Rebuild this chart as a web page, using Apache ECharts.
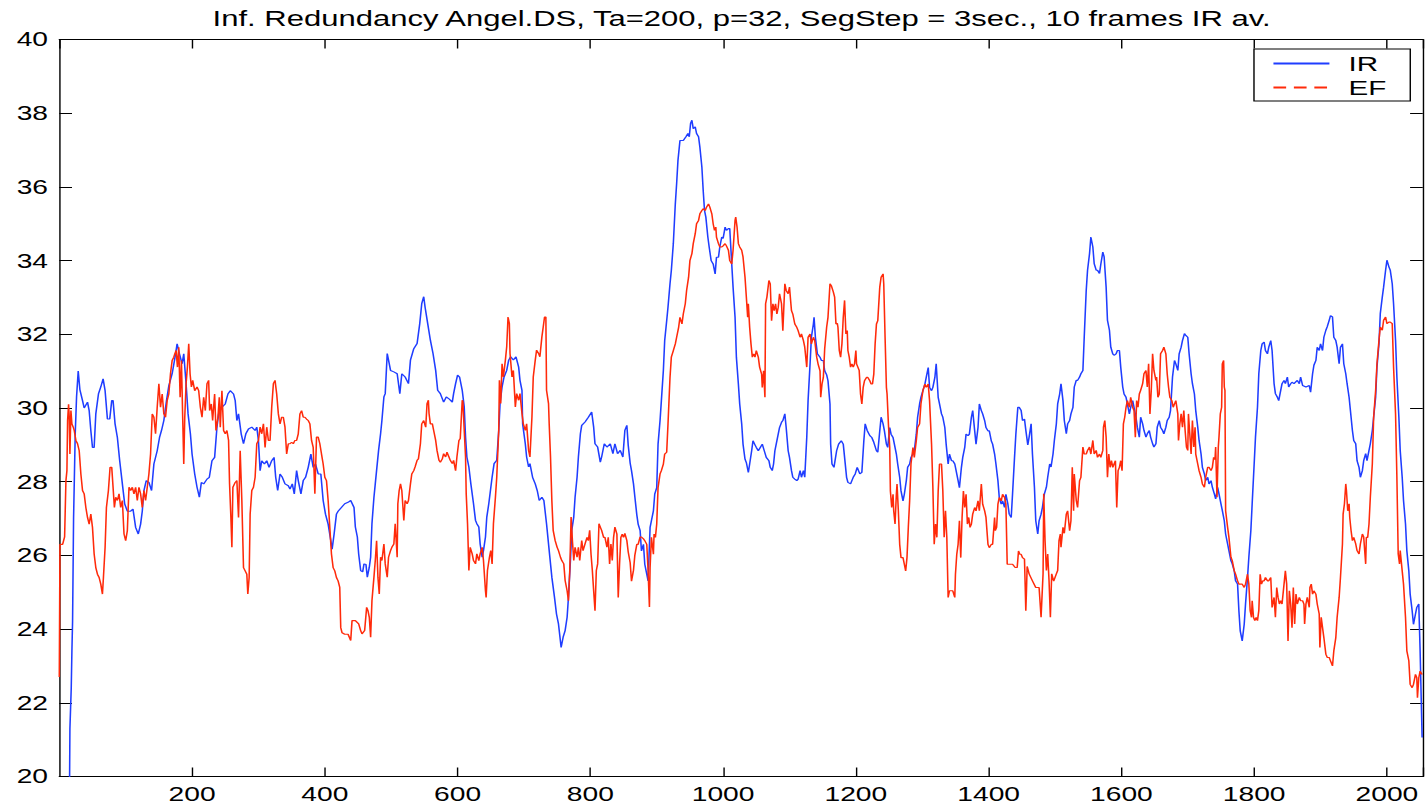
<!DOCTYPE html>
<html>
<head>
<meta charset="utf-8">
<title>Inf. Redundancy Angel.DS</title>
<script src="https://cdn.jsdelivr.net/npm/echarts@6/dist/echarts.min.js"></script>
<style>
  html, body { margin: 0; padding: 0; background: #fff; overflow: hidden; }
  /* the figure is laid out on a narrower canvas and stretched horizontally */
  #chart { width: 1012px; height: 807px; transform: scaleX(1.410079); transform-origin: 0 0; }
</style>
</head>
<body>
<div id="chart"></div>
<script>
// Information redundancy (IR), 10-frame average, as [frame, value]
const irPoints = [
  [15,18.5],[16,21.3],[18,22.4],[19,23.4],[20,24.2],[21.5,27.0],[24,29.3],[26,30.3],[28.5,31.0],[31,30.5],
  [35,30.2],[37.5,30.0],[42.5,30.16],[45,29.93],[47.5,29.39],[50,28.93],[52.5,28.93],[55,29.84],[59,30.38],[62.5,30.57],
  [66,30.79],[69,30.47],[72.5,29.7],[76,29.7],[79,30.2],[81,30.2],[84,29.57],[87.5,29.2],[91,28.57],[95,27.94],
  [98.5,27.4],[102.5,27.2],[107.5,27.2],[111,27.26],[115,26.76],[119,26.58],[122.5,26.85],[125,27.2],[127.5,27.76],[131,28.03],
  [135,27.98],[139,27.76],[142.5,28.48],[147.5,28.84],[151,29.2],[154,29.39],[157.5,29.66],[161.5,30.2],[165,30.6],[170,30.93],
  [174,31.34],[177.5,31.74],[181,31.47],[185,31.2],[187.5,31.47],[191,30.66],[194,29.84],[197.5,29.3],[200,28.75],[204,28.21],
  [207.5,27.85],[211,27.58],[214,27.98],[217.5,27.94],[222.5,28.07],[226,28.12],[230,28.57],[234,28.66],[237.5,29.48],[240,29.84],
  [245,30.02],[250,30.11],[254,30.38],[257.5,30.47],[262.5,30.38],[265,30.2],[267.5,29.66],[270,29.84],[274,29.3],[277.5,29.03],
  [281,29.3],[285,29.43],[290,29.48],[295,29.39],[297.5,29.48],[300,29.12],[302.5,28.3],[305,28.57],[309,28.48],[312.5,28.57],
  [316,28.39],[320,28.57],[323.5,28.66],[326,28.12],[329,27.76],[332.5,28.21],[336,28.12],[340,27.94],[345,27.89],[347.5,27.8],
  [351,27.94],[354,27.67],[357.5,28.3],[360,28.03],[364,27.67],[367.5,28.03],[371,28.12],[375,28.39],[379,28.75],[382.5,28.39],
  [386,28.48],[390,28.21],[394,28.21],[397.5,27.49],[401,27.12],[405,26.85],[409,26.4],[411,26.17],[414,26.58],[417.5,27.12],
  [420,27.2],[425,27.3],[430,27.4],[435,27.44],[439,27.49],[444,27.3],[446,26.77],[449,26.5],[451,26.04],[454,25.59],
  [457,25.55],[459,25.77],[462,25.75],[464,25.41],[467,25.68],[469,25.95],[471,26.86],[474,27.58],[476,27.94],[479,28.49],
  [481,28.85],[484,29.3],[486,29.66],[489,30.3],[491,30.39],[494,31.48],[496,31.3],[499,31.02],[504,30.98],[509,30.93],
  [513,30.39],[516,30.93],[521,30.84],[526,30.66],[529,31.3],[534,31.61],[539,31.75],[543,32.29],[546,32.83],[549,33.02],
  [551,32.74],[555,32.29],[559,31.84],[563,31.48],[567,31.02],[570,30.48],[574,30.39],[579,30.16],[583,30.3],[587,30.25],
  [592,30.16],[594,30.39],[597,30.66],[600,30.89],[603,30.84],[607,30.48],[610,30.03],[612,29.21],[614,28.67],[617,28.4],
  [620,27.94],[624,27.4],[627,26.95],[629,26.86],[632,26.77],[634,26.31],[637,25.95],[639,26.13],[642,26.5],[644,27.04],
  [647,27.4],[652,28.12],[655,28.49],[659,28.58],[662,29.39],[664,30.12],[667,30.57],[670,30.84],[674,31.02],[677,31.3],
  [680,31.39],[684,31.3],[688,31.39],[692,31.11],[694,30.75],[697,30.48],[698,29.57],[702,29.03],[704,28.67],[707,28.4],
  [709,28.49],[713,28.12],[717,27.94],[720,27.76],[723,27.49],[727,27.58],[730,27.49],[734,26.86],[738,26.13],[742,25.41],
  [746,24.86],[749,24.41],[752,24.14],[756,23.5],[759,23.78],[762,23.96],[765,24.32],[767,24.86],[770,25.86],[772,26.68],
  [775,27.04],[777,27.58],[780,28.12],[782,28.67],[785,29.3],[787,29.53],[792,29.62],[797,29.75],[802,29.89],[805,29.48],
  [807,29.03],[811,28.94],[815,28.53],[817,28.67],[821,29.03],[825,28.94],[830,29.03],[834,28.76],[837,29.03],[841,28.76],
  [845,28.85],[849,28.67],[852,29.39],[855,29.53],[857,29.0],[860,28.5],[862,28.3],[865,27.94],[867,27.6],[870,27.1],
  [872,26.85],[875,26.67],[877,26.12],[880,26.3],[882,25.76],[885,25.49],[887,25.31],[890,26.76],[892,26.94],[895,27.21],
  [897,27.66],[900,27.84],[902,29.02],[905,29.66],[907,30.2],[910,31.02],[912,31.83],[915,32.37],[917,32.74],[920,33.37],
  [922,33.73],[925,34.46],[928,35.54],[930,36.09],[932,36.72],[935,37.26],[940,37.26],[944,37.36],[947,37.45],[949,37.36],
  [951,37.72],[953,37.81],[955,37.58],[958,37.63],[960,37.45],[963,37.36],[965,37.08],[968,36.54],[970,35.9],[972,35.36],
  [974,35.18],[977,34.64],[979,34.37],[982,34.0],[985,33.91],[988,33.64],[990,34.09],[993,34.09],[995,34.37],[998,34.64],
  [1000,34.6],[1003,34.91],[1005,34.82],[1008,34.87],[1010,34.87],[1013,33.91],[1015,33.28],[1018,32.46],[1020,31.38],[1023,30.65],
  [1025,30.11],[1028,29.57],[1030,29.02],[1033,28.61],[1035,28.52],[1038,28.25],[1040,28.48],[1043,28.84],[1045,29.11],[1048,29.0],
  [1050,28.93],[1053,28.84],[1056,28.93],[1059,29.02],[1062,28.84],[1065,28.66],[1069,28.57],[1071,28.39],[1074,28.3],[1076,28.48],
  [1078,28.84],[1080,29.02],[1083,29.29],[1085,29.47],[1088,29.61],[1090,29.66],[1093,29.84],[1095,29.47],[1098,28.84],[1100,28.66],
  [1103,28.3],[1105,28.12],[1108,28.07],[1111,28.03],[1113,28.07],[1116,28.3],[1118,28.12],[1121,28.3],[1123,28.12],[1126,29.2],
  [1128,30.2],[1131,31.2],[1133,31.92],[1136,32.28],[1137,32.46],[1139,31.92],[1142,31.47],[1146,31.38],[1148,31.29],[1151,31.29],
  [1153,31.01],[1156,30.9],[1158,30.74],[1161,30.11],[1162,29.02],[1164,28.48],[1167,28.39],[1171,28.84],[1174,29.02],[1178,29.11],
  [1181,29.02],[1183,28.66],[1186,28.12],[1188,27.98],[1192,27.94],[1196,28.12],[1199,28.21],[1202,28.39],[1206,28.21],[1209,28.25],
  [1212,29.11],[1214,29.57],[1217,29.39],[1221,29.25],[1224,29.2],[1227,29.07],[1231,28.84],[1233,28.8],[1236,29.38],[1238,29.75],
  [1241,29.57],[1243,29.38],[1246,29.02],[1248,28.93],[1251,29.47],[1253,29.29],[1256,29.2],[1258,29.02],[1261,28.75],[1263,28.48],
  [1266,28.12],[1268,27.75],[1271,27.48],[1273,27.66],[1276,28.03],[1278,28.39],[1281,28.48],[1283,28.66],[1286,28.75],[1288,28.84],
  [1291,29.29],[1293,29.75],[1296,30.11],[1298,30.29],[1301,30.47],[1304,30.65],[1306,30.83],[1309,31.1],[1311,30.56],[1314,30.47],
  [1316,30.56],[1319,30.83],[1321,31.2],[1324,30.29],[1326,30.11],[1329,29.84],[1331,29.75],[1334,29.47],[1336,29.02],[1339,28.48],
  [1341,28.75],[1344,28.57],[1346,28.57],[1349,28.48],[1351,28.3],[1354,28.03],[1356,27.84],[1359,28.39],[1361,28.66],[1364,28.93],
  [1366,29.29],[1369,29.25],[1371,29.29],[1374,29.75],[1376,29.93],[1379,29.38],[1381,29.02],[1384,29.47],[1386,30.11],[1389,29.93],
  [1391,29.84],[1394,29.66],[1396,29.47],[1399,29.38],[1401,29.38],[1404,29.11],[1406,29.02],[1409,28.75],[1411,28.48],[1414,28.03],
  [1416,27.57],[1419,27.39],[1421,27.48],[1424,27.3],[1426,27.66],[1429,27.39],[1431,27.12],[1434,27.03],[1436,27.66],[1439,28.66],
  [1441,29.29],[1444,30.02],[1446,30.02],[1449,29.93],[1451,29.66],[1454,29.7],[1456,29.4],[1459,29.0],[1461,29.21],[1464,29.57],
  [1466,28.75],[1469,27.85],[1471,26.94],[1474,26.58],[1476,26.94],[1479,27.12],[1481,27.3],[1484,27.67],[1487,27.85],[1489,28.12],
  [1492,28.48],[1494,28.4],[1497,28.75],[1499,29.12],[1502,29.57],[1504,30.11],[1507,30.38],[1509,30.66],[1512,30.2],[1514,29.66],
  [1517,29.3],[1519,29.57],[1522,29.66],[1524,29.84],[1527,30.02],[1529,30.57],[1532,30.75],[1534,30.75],[1537,30.84],[1539,30.93],
  [1542,31.02],[1544,31.92],[1547,33.19],[1549,33.74],[1552,34.19],[1554,34.64],[1557,34.37],[1559,33.92],[1562,33.74],[1564,33.74],
  [1567,33.65],[1569,33.9],[1572,34.23],[1574,34.1],[1577,33.28],[1579,32.38],[1582,32.11],[1584,31.65],[1587,31.47],[1589,31.43],
  [1592,31.47],[1594,31.56],[1597,31.56],[1599,31.11],[1602,30.57],[1604,30.38],[1607,30.29],[1609,30.11],[1612,29.84],[1614,30.02],
  [1617,30.2],[1619,30.02],[1622,29.75],[1624,29.48],[1627,29.21],[1629,29.75],[1632,29.57],[1634,29.39],[1637,29.21],[1639,29.3],
  [1642,29.39],[1644,29.21],[1647,29.03],[1649,28.94],[1652,29.03],[1654,29.48],[1657,29.66],[1659,29.48],[1662,29.39],[1664,29.3],
  [1667,29.48],[1669,29.66],[1672,29.75],[1674,29.93],[1677,30.84],[1680,31.29],[1682,31.2],[1685,31.02],[1687,31.47],[1690,31.65],
  [1692,31.83],[1695,32.02],[1697,31.97],[1700,31.92],[1702,31.47],[1705,30.93],[1707,30.66],[1710,30.38],[1712,29.93],[1715,29.48],
  [1717,29.12],[1720,28.75],[1722,28.39],[1725,28.21],[1727,28.03],[1730,28.12],[1732,27.94],[1735,28.03],[1737,27.85],[1740,27.67],
  [1742,27.53],[1745,27.85],[1747,27.67],[1750,27.4],[1752,27.22],[1755,26.94],[1757,26.58],[1760,26.31],[1762,26.13],[1765,25.86],
  [1767,25.77],[1770,25.58],[1772,25.31],[1775,25.22],[1777,24.5],[1779,23.95],[1782,23.68],[1785,24.13],[1787,24.68],[1790,25.4],
  [1792,25.95],[1795,26.67],[1797,27.4],[1800,28.48],[1802,29.21],[1805,30.02],[1807,30.93],[1810,31.56],[1812,31.74],[1815,31.79],
  [1817,31.56],[1820,31.47],[1822,31.65],[1825,31.83],[1827,31.56],[1830,30.66],[1832,30.39],[1835,30.29],[1837,30.2],[1840,30.48],
  [1842,30.66],[1845,30.75],[1847,30.66],[1850,30.84],[1852,30.57],[1855,30.66],[1857,30.7],[1860,30.66],[1865,30.75],[1868,30.66],
  [1870,30.84],[1873,30.61],[1878,30.57],[1883,30.61],[1885,30.43],[1888,30.93],[1890,31.16],[1893,31.29],[1895,31.65],[1898,31.56],
  [1900,31.74],[1903,31.56],[1905,31.92],[1908,32.11],[1910,32.2],[1913,32.38],[1915,32.51],[1918,32.47],[1920,31.92],[1923,31.83],
  [1925,31.65],[1928,31.2],[1930,31.65],[1933,31.74],[1935,31.2],[1938,30.93],[1940,30.66],[1943,30.29],[1945,29.93],[1948,29.39],
  [1950,29.12],[1953,29.03],[1955,28.57],[1958,28.39],[1960,28.12],[1963,28.3],[1965,28.57],[1968,28.76],[1970,28.57],[1973,28.85],
  [1975,29.03],[1978,29.39],[1980,29.75],[1983,30.29],[1985,31.11],[1988,31.74],[1990,32.56],[1993,33.01],[1995,33.28],[1998,33.74],
  [2000,34.01],[2003,33.83],[2005,33.74],[2008,33.37],[2010,32.83],[2013,31.83],[2015,30.84],[2018,29.75],[2020,28.85],[2023,28.12],
  [2025,27.49],[2028,26.85],[2030,26.13],[2033,25.58],[2035,24.95],[2038,24.5],[2040,24.13],[2043,24.41],[2045,24.59],[2048,24.68],
  [2050,23.41],[2053,21.06]
];

// EF series, as [frame, value]
const efPoints = [
  [0,22.7],[1,26.3],[5,26.3],[8,26.5],[10,28.03],[11.5,28.3],[12.5,29.66],[14,30.1],[15,29.75],[16,28.75],
  [17.5,29.93],[19,29.57],[21,29.48],[22.5,29.39],[25,29.12],[27.5,29.03],[30,28.84],[32.5,28.21],[35,27.76],[37.5,27.67],
  [40,27.3],[42.5,27.03],[45,26.85],[47.5,27.12],[50,26.76],[52.5,26.04],[55,25.67],[57.5,25.49],[60,25.4],[62.5,25.22],
  [65,24.95],[66.5,25.4],[69,26.22],[71,27.3],[74,27.76],[76.5,28.39],[79,28.39],[81,27.85],[83,27.3],[85,27.58],
  [87.5,27.49],[90,27.67],[92.5,27.3],[95,27.49],[97.5,26.58],[100,26.4],[102.5,26.67],[105,27.85],[107.5,27.76],[110,27.85],
  [112.5,27.67],[115,27.85],[117.5,27.49],[120,27.85],[122.5,27.67],[125,27.3],[127.5,27.76],[130,27.49],[132.5,27.85],[135,28.21],
  [137.5,28.75],[140,29.84],[142.5,29.75],[145,29.3],[147.5,30.02],[150,30.66],[152.5,30.02],[155,30.38],[157.5,29.84],[160,29.75],
  [162.5,30.2],[165,30.38],[167.5,30.93],[170,31.29],[172.5,31.38],[174,31.47],[176,31.56],[178,31.11],[180,31.65],[182,30.29],
  [184,31.29],[186,29.66],[187.5,28.48],[189,29.75],[191,30.66],[193,31.11],[195,31.74],[197,30.93],[199,30.57],[201,30.75],
  [204,30.47],[207.5,30.57],[210,30.47],[212.5,30.02],[215,29.75],[217.5,30.29],[220,29.93],[222.5,30.66],[225,30.75],[226.5,29.93],
  [229,30.11],[231,29.66],[234,30.38],[236,29.39],[239,29.75],[241,30.29],[242.5,29.48],[245,30.47],[247.5,29.39],[250,29.3],
  [252.5,29.39],[255,29.12],[256.5,27.94],[258.5,27.03],[260,26.22],[261.5,27.85],[265,27.98],[267.5,28.03],[270,27.03],[272.5,28.84],
  [275,27.49],[277.5,25.67],[280,25.58],[282.5,25.49],[284,24.95],[286,25.4],[287.5,27.12],[290,27.76],[292.5,27.85],[295,28.12],
  [297.5,29.03],[300,29.12],[302.5,29.48],[305,29.3],[307.5,29.57],[310,28.93],[312.5,29.48],[315,29.12],[317.5,29.12],[320,30.02],
  [322.5,30.66],[325,30.75],[327.5,30.38],[330,29.84],[332.5,29.57],[335,29.75],[337.5,29.75],[340,29.48],[342.5,28.75],[345,29.03],
  [347.5,29.03],[350,29.07],[352.5,29.03],[355,29.12],[357.5,29.12],[360,29.3],[362.5,29.84],[365,29.93],[367.5,29.75],[370,29.75],
  [372.5,29.7],[375,29.66],[377.5,29.57],[380,29.12],[382.5,28.93],[385,27.67],[387.5,29.21],[390,29.21],[392.5,29.03],[395,28.75],
  [397.5,28.48],[400,28.12],[402.5,28.03],[405,27.49],[407.5,26.76],[410,26.04],[412.5,25.67],[415,25.58],[417.5,25.4],[420,25.31],
  [422.5,25.13],[424,24.04],[426,23.9],[430,23.86],[435,23.86],[439,23.69],[441,24.23],[446,24.23],[451,24.14],[454,23.96],
  [456,23.87],[460,23.96],[463,24.59],[465,24.5],[467,24.32],[469,23.78],[471,24.77],[474,25.41],[476,25.86],[478,26.4],
  [480,25.41],[482,24.95],[484,25.95],[486,25.86],[489,26.31],[491,25.77],[494,25.41],[496,25.95],[499,26.13],[501,26.22],
  [504,26.31],[506,26.86],[509,25.95],[510,27.4],[512,27.76],[514,27.94],[516,27.76],[519,26.95],[521,27.49],[524,27.4],
  [526,27.49],[529,27.94],[531,28.21],[534,28.3],[536,28.4],[539,28.58],[541,28.62],[544,29.03],[546,29.57],[549,29.66],
  [552,29.48],[554,30.12],[556,30.21],[557,29.85],[559,29.57],[562,29.57],[564,29.39],[567,29.12],[569,28.85],[572,28.58],
  [574,28.53],[577,28.62],[579,28.76],[582,28.67],[584,28.8],[587,28.67],[589,28.58],[592,28.49],[594,28.58],[597,28.3],
  [599,28.67],[602,29.12],[604,29.17],[607,30.21],[608,30.17],[610,29.39],[612,28.67],[613,27.67],[615,26.86],[617,25.59],
  [619,26.22],[622,26.04],[624,25.86],[627,25.77],[629,26.04],[632,25.86],[634,26.04],[637,26.22],[639,25.86],[642,25.04],
  [643,24.86],[645,25.59],[648,25.95],[650,26.13],[652,25.77],[654,26.86],[657,27.58],[659,28.12],[662,29.39],[663,30.75],
  [665,30.12],[667,31.2],[669,30.84],[672,31.3],[674,31.66],[676,32.47],[678,32.29],[679,31.48],[682,30.84],[684,31.02],
  [687,30.03],[689,30.39],[692,30.21],[694,30.39],[697,29.85],[699,29.57],[702,29.39],[704,29.57],[707,28.85],[709,28.67],
  [712,29.75],[714,30.84],[717,31.3],[719,31.57],[722,31.48],[724,31.39],[727,31.93],[729,32.2],[731,32.47],[733,32.47],
  [734,30.48],[737,30.12],[738,29.57],[740,28.67],[742,27.49],[744,26.68],[747,26.4],[750,26.22],[752,26.13],[755,25.95],
  [757,25.86],[760,25.77],[762,25.32],[765,25.04],[767,24.77],[769,25.59],[771,27.04],[773,26.4],[775,25.86],[777,26.22],
  [780,25.95],[782,26.22],[784,25.86],[787,26.4],[789,26.13],[792,26.31],[795,26.49],[797,26.4],[799,26.68],[801,26.04],
  [803,25.59],[805,25.04],[807,24.5],[809,25.59],[811,25.77],[813,26.86],[815,26.77],[817,26.68],[820,26.49],[822,26.49],
  [825,26.22],[827,26.49],[829,25.77],[831,26.31],[833,25.86],[835,26.49],[837,26.77],[840,26.58],[842,24.86],[844,25.77],
  [846,26.49],[848,26.58],[850,26.49],[852,26.6],[855,26.4],[857,26.1],[860,25.8],[862,25.3],[865,25.6],[867,26.0],
  [870,26.3],[872,26.3],[875,26.5],[877,26.5],[880,26.45],[882,26.4],[885,26.3],[887,25.58],[889,24.6],[890,25.67],
  [892,26.49],[895,26.03],[896,26.58],[898,26.49],[900,26.85],[902,27.84],[905,28.21],[907,28.3],[910,28.48],[912,28.75],
  [915,28.8],[917,29.57],[920,30.83],[922,31.38],[925,31.56],[928,31.74],[930,31.92],[933,32.19],[935,32.46],[938,32.28],
  [940,32.55],[943,32.83],[945,33.19],[948,33.55],[950,34.0],[953,34.19],[955,34.46],[958,34.73],[960,35.0],[963,35.09],
  [965,35.27],[968,35.36],[970,35.41],[973,35.36],[975,35.45],[978,35.54],[980,35.45],[983,35.27],[985,35.0],[987,34.82],
  [989,34.91],[990,34.64],[993,34.46],[995,34.37],[998,34.37],[1000,34.4],[1003,34.46],[1005,34.4],[1008,34.28],[1010,34.0],
  [1013,33.91],[1015,34.28],[1018,35.09],[1019,35.18],[1021,34.91],[1023,34.46],[1025,34.37],[1028,34.28],[1030,34.1],[1033,33.55],
  [1035,33.01],[1037,32.46],[1038,32.83],[1040,32.19],[1042,31.74],[1044,31.38],[1046,31.47],[1048,31.38],[1050,31.56],[1053,31.38],
  [1055,31.11],[1058,30.92],[1059,30.56],[1061,31.01],[1063,30.29],[1064,32.83],[1066,33.01],[1069,33.46],[1071,33.37],[1073,32.37],
  [1075,32.83],[1077,32.64],[1079,32.83],[1081,32.55],[1083,32.73],[1085,33.1],[1088,32.83],[1090,32.1],[1093,33.37],[1095,33.19],
  [1098,33.1],[1100,33.28],[1103,32.64],[1105,32.55],[1108,32.28],[1111,32.19],[1113,32.1],[1116,31.92],[1118,32.01],[1121,31.83],
  [1123,31.65],[1126,31.11],[1128,31.92],[1131,32.01],[1133,31.74],[1136,31.92],[1138,31.83],[1141,31.38],[1143,31.2],[1146,31.01],
  [1147,30.29],[1149,30.65],[1151,30.83],[1153,31.6],[1156,32.2],[1158,32.46],[1161,33.37],[1163,33.32],[1166,33.15],[1168,33.01],
  [1170,32.28],[1172,32.3],[1173,32.19],[1175,31.56],[1177,31.38],[1179,31.74],[1181,32.46],[1183,32.92],[1185,32.01],[1187,32.1],
  [1188,31.56],[1190,31.38],[1192,31.11],[1194,31.2],[1196,31.11],[1198,31.2],[1200,31.56],[1201,31.2],[1203,31.11],[1205,31.02],
  [1207,30.38],[1209,30.11],[1211,30.56],[1213,30.74],[1216,30.83],[1218,30.83],[1221,30.74],[1223,30.65],[1225,30.65],[1227,30.92],
  [1229,31.74],[1231,32.28],[1233,32.37],[1236,33.28],[1238,33.55],[1241,33.64],[1242,33.37],[1244,31.92],[1246,30.56],[1247,30.38],
  [1249,29.57],[1251,28.93],[1252,27.75],[1254,27.3],[1256,27.66],[1257,27.21],[1259,26.85],[1261,27.66],[1262,27.94],[1264,27.21],
  [1266,26.3],[1268,25.94],[1271,25.94],[1273,25.76],[1275,25.58],[1277,25.94],[1279,26.76],[1281,27.48],[1283,28.48],[1286,28.93],
  [1288,28.66],[1291,29.11],[1293,29.47],[1296,29.57],[1298,30.11],[1301,30.47],[1304,30.65],[1306,30.56],[1309,30.65],[1311,30.2],
  [1314,29.02],[1316,27.84],[1318,26.3],[1320,26.85],[1322,26.49],[1324,27.75],[1326,28.48],[1329,28.48],[1331,27.75],[1333,26.49],
  [1335,27.21],[1337,26.49],[1339,24.86],[1341,25.04],[1344,25.04],[1346,25.04],[1349,24.86],[1350,25.49],[1352,26.03],[1354,26.3],
  [1356,26.94],[1358,25.94],[1360,27.03],[1362,27.75],[1364,27.3],[1366,27.66],[1368,26.85],[1370,27.03],[1372,26.76],[1374,26.85],
  [1376,27.12],[1379,27.3],[1381,27.21],[1384,27.48],[1386,27.21],[1389,27.94],[1391,27.39],[1394,27.21],[1396,27.03],[1399,26.3],
  [1401,26.21],[1404,26.3],[1406,26.3],[1409,27.03],[1410,26.67],[1412,26.76],[1414,27.39],[1416,27.57],[1419,27.48],[1421,27.66],
  [1424,27.57],[1426,27.39],[1428,25.76],[1432,25.76],[1436,25.76],[1440,25.67],[1443,25.67],[1445,26.12],[1447,26.03],[1449,26.03],
  [1451,25.94],[1454,25.9],[1455,25.22],[1456,24.5],[1457,25.04],[1458,25.7],[1461,25.5],[1466,25.31],[1471,25.13],[1476,25.13],
  [1479,24.32],[1482,25.5],[1483,27.67],[1485,26.4],[1487,25.59],[1489,26.04],[1491,25.31],[1493,24.32],[1495,25.5],[1498,25.3],
  [1502,25.5],[1504,25.59],[1506,26.4],[1508,26.58],[1509,26.22],[1512,26.76],[1514,26.6],[1517,27.12],[1519,27.21],[1522,26.67],
  [1524,26.94],[1526,28.39],[1528,27.21],[1529,28.21],[1532,27.49],[1534,27.3],[1537,28.03],[1539,28.12],[1542,28.94],[1544,28.75],
  [1547,28.75],[1549,28.85],[1552,28.94],[1554,28.75],[1557,29.12],[1559,28.75],[1562,28.85],[1564,28.66],[1567,28.75],[1569,28.66],
  [1572,28.85],[1573,29.48],[1575,29.66],[1577,29.21],[1579,28.12],[1581,28.75],[1583,28.39],[1585,28.57],[1587,28.39],[1589,28.48],
  [1591,28.57],[1593,27.3],[1595,28.3],[1597,28.39],[1599,28.57],[1601,28.3],[1603,29.57],[1605,29.75],[1607,30.02],[1609,30.2],
  [1612,30.02],[1614,30.29],[1617,30.02],[1619,29.93],[1621,29.21],[1623,30.2],[1625,30.02],[1627,30.38],[1629,30.48],[1632,30.66],
  [1634,30.93],[1637,31.02],[1639,30.57],[1641,31.2],[1643,29.84],[1645,30.48],[1647,31.47],[1649,31.02],[1652,30.75],[1653,30.84],
  [1655,30.29],[1657,30.38],[1659,31.47],[1662,31.56],[1664,31.65],[1667,31.47],[1669,30.93],[1671,30.57],[1673,30.29],[1676,30.2],
  [1678,30.02],[1680,30.11],[1682,30.2],[1685,29.84],[1686,29.12],[1688,29.57],[1690,29.84],[1692,29.48],[1694,29.93],[1696,29.39],
  [1698,28.94],[1700,28.85],[1701,29.84],[1703,29.3],[1705,28.75],[1707,29.66],[1709,28.94],[1711,29.48],[1712,28.75],[1715,28.48],
  [1717,28.3],[1720,28.12],[1722,27.94],[1725,27.85],[1727,28.12],[1730,28.39],[1732,28.39],[1735,28.3],[1737,28.39],[1739,28.66],
  [1741,28.6],[1742,28.94],[1744,27.58],[1746,28.94],[1747,29.21],[1749,29.84],[1751,30.02],[1752,31.2],[1754,31.29],[1755,30.57],
  [1756,30.48],[1757,27.21],[1760,26.76],[1762,26.49],[1765,25.95],[1767,25.86],[1770,25.58],[1772,25.49],[1775,25.31],[1777,25.22],
  [1780,25.22],[1782,25.22],[1785,25.13],[1787,25.22],[1790,25.49],[1792,25.22],[1794,24.5],[1796,24.32],[1797,24.77],[1799,24.32],
  [1801,24.23],[1803,24.32],[1805,24.23],[1807,24.5],[1809,25.49],[1811,25.22],[1813,25.31],[1815,25.31],[1817,25.4],[1820,25.31],
  [1822,25.31],[1825,25.4],[1827,24.59],[1830,24.86],[1832,24.32],[1834,25.13],[1836,24.86],[1838,24.68],[1840,24.77],[1842,24.68],
  [1845,25.22],[1847,25.58],[1849,25.22],[1851,23.68],[1853,25.04],[1855,24.68],[1857,24.04],[1859,25.13],[1861,24.14],[1863,24.95],
  [1865,24.68],[1868,24.86],[1870,24.77],[1873,24.77],[1875,24.68],[1876,24.14],[1878,24.68],[1880,24.86],[1883,24.59],[1884,25.13],
  [1886,25.22],[1888,24.95],[1890,25.04],[1893,24.95],[1895,24.68],[1898,24.41],[1899,23.5],[1901,24.32],[1903,24.04],[1905,23.77],
  [1908,23.32],[1910,23.23],[1913,23.23],[1915,23.14],[1918,23.0],[1920,23.41],[1923,23.77],[1925,24.32],[1928,24.86],[1930,25.4],
  [1933,26.31],[1934,27.12],[1936,27.4],[1938,27.94],[1939,27.76],[1941,27.21],[1943,27.4],[1944,27.03],[1946,26.67],[1948,26.4],
  [1950,26.49],[1953,26.31],[1955,26.13],[1958,26.04],[1960,26.31],[1963,26.58],[1965,26.5],[1968,25.77],[1969,26.49],[1971,26.49],
  [1973,26.85],[1975,27.58],[1978,28.48],[1980,29.75],[1983,30.48],[1985,31.2],[1988,31.83],[1990,32.2],[1993,32.11],[1995,32.38],
  [1998,32.47],[2000,32.29],[2003,32.33],[2005,32.33],[2008,32.29],[2010,31.11],[2013,29.84],[2015,28.12],[2017,26.04],[2019,25.77],
  [2020,26.13],[2023,25.58],[2025,25.22],[2028,24.32],[2030,23.41],[2033,23.14],[2035,22.5],[2038,22.41],[2040,22.5],[2043,22.77],
  [2045,22.68],[2046,22.14],[2048,22.68],[2050,22.86],[2053,22.77]
];

const seriesNames = ['IR', 'EF'];
const titleText = 'Inf. Redundancy Angel.DS, Ta=200, p=32, SegStep = 3sec., 10 frames IR av.';
const xRange = [0, 2054];
const xStep = 200;
const yRange = [20, 40];
const yStep = 2;

const FONT = "'Liberation Sans', Arial, Helvetica, sans-serif";
const BLUE = '#1f3dff';
const RED = '#ff2a0a';
const INK = '#000';

const chart = echarts.init(document.getElementById('chart'), null, { renderer: 'svg' });

// shared styling for the four sides of the boxed axes
function boxAxis(extra) {
  return Object.assign({
    type: 'value',
    axisLine: { show: true, onZero: false, lineStyle: { color: INK, width: 1 } },
    axisTick: { show: true, inside: true, length: 9, lineStyle: { color: INK, width: 1 } },
    splitLine: { show: false }
  }, extra);
}

const xLabel = v => (v > 0 && v % xStep === 0) ? String(v) : '';

chart.setOption({
  animation: false,
  backgroundColor: '#fff',
  title: {
    text: titleText,
    left: 525.9,
    top: 18.5,
    padding: 0,
    textAlign: 'center',
    textVerticalAlign: 'middle',
    textStyle: { fontFamily: FONT, fontSize: 22, fontWeight: 'normal', color: INK }
  },
  grid: { left: 42.05, right: 2.13, top: 39.5, bottom: 30.5, containLabel: false },
  legend: {
    orient: 'vertical',
    left: 889.3,
    top: 49,
    padding: [4, 17, 3, 12.8],
    itemWidth: 39.7,
    itemHeight: 14,
    itemGap: 3,
    borderColor: INK,
    borderWidth: 1,
    backgroundColor: '#fff',
    itemStyle: { opacity: 0 },
    textStyle: { fontFamily: FONT, fontSize: 21, color: INK, padding: [0, 0, 0, 8.5] },
    data: [
      { name: seriesNames[0] },
      { name: seriesNames[1], lineStyle: { type: [9, 5.5] } }
    ]
  },
  xAxis: [
    boxAxis({
      position: 'bottom', min: xRange[0], max: xRange[1], interval: xStep,
      axisLabel: { show: true, formatter: xLabel, margin: 8, fontFamily: FONT, fontSize: 20, color: INK, showMinLabel: false }
    }),
    boxAxis({
      position: 'top', min: xRange[0], max: xRange[1], interval: xStep,
      axisLabel: { show: false }
    })
  ],
  yAxis: [
    boxAxis({
      position: 'left', min: yRange[0], max: yRange[1], interval: yStep,
      axisLabel: { show: true, margin: 8, fontFamily: FONT, fontSize: 20, color: INK }
    }),
    boxAxis({
      position: 'right', min: yRange[0], max: yRange[1], interval: yStep,
      axisLabel: { show: false }
    })
  ],
  series: [
    {
      name: seriesNames[0], type: 'line', xAxisIndex: 0, yAxisIndex: 0,
      data: irPoints, symbol: 'none', showSymbol: false, clip: true,
      lineStyle: { color: BLUE, width: 1.1 }, itemStyle: { color: BLUE }, z: 2
    },
    {
      name: seriesNames[1], type: 'line', xAxisIndex: 0, yAxisIndex: 0,
      data: efPoints, symbol: 'none', showSymbol: false, clip: true,
      lineStyle: { color: RED, width: 1.1 }, itemStyle: { color: RED }, z: 3
    }
  ]
});
</script>
</body>
</html>
